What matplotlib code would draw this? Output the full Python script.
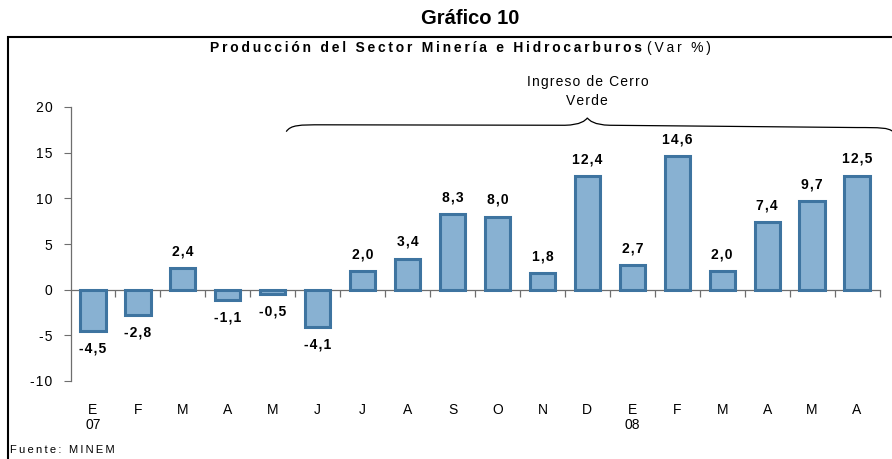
import matplotlib
matplotlib.use("Agg")
import matplotlib.pyplot as plt
from matplotlib.patches import Rectangle, PathPatch
from matplotlib.path import Path
from matplotlib.transforms import blended_transform_factory

plt.rcParams['font.family'] = ['Liberation Sans', 'DejaVu Sans']
plt.rcParams['axes.unicode_minus'] = False

# data
months = ['E', 'F', 'M', 'A', 'M', 'J', 'J', 'A', 'S', 'O', 'N', 'D',
          'E', 'F', 'M', 'A', 'M', 'A']
years = {0: '07', 12: '08'}
values = [-4.5, -2.8, 2.4, -1.1, -0.5, -4.1, 2.0, 3.4, 8.3, 8.0, 1.8, 12.4,
          2.7, 14.6, 2.0, 7.4, 9.7, 12.5]
yticks = [-10, -5, 0, 5, 10, 15, 20]

fill_color = '#88b1d2'
edge_color = '#3e74a0'
axis_color = '#6e6e6e'

THIN = '\u2009'
HAIR = '\u200a'


def spaced(s, gap):
    # the original text is letter-spaced, fake it with narrow spaces
    return gap.join(s)


fig = plt.figure(figsize=(8.92, 4.59), dpi=100)
ax = fig.add_axes([70.5 / 892, 1 - 381 / 459, (879.5 - 70.5) / 892, 274 / 459])

x = list(range(len(values)))
ax.bar(x, values, width=0.56, color=fill_color, edgecolor=edge_color, linewidth=2.2, zorder=3)

ax.set_xlim(-0.5, len(values) - 0.5)
ax.set_ylim(-10, 20)
ax.set_yticks(yticks)
ax.set_yticklabels([spaced(str(t), HAIR) for t in yticks])
ax.tick_params(axis='y', direction='out', length=5, width=0.8, pad=8,
               labelsize=10, color=axis_color)

# x axis sits at zero, ticks at the category boundaries
ax.spines['bottom'].set_position(('data', 0))
ax.spines['top'].set_visible(False)
ax.spines['right'].set_visible(False)
for side in ['left', 'bottom']:
    ax.spines[side].set_linewidth(0.9)
    ax.spines[side].set_color(axis_color)
ax.set_xticks([i + 0.5 for i in x])
ax.set_xticklabels([])
ax.tick_params(axis='x', direction='out', length=5, width=0.9, color=axis_color)

# value labels
for xi, v in zip(x, values):
    lbl = spaced(f'{v:.1f}'.replace('.', ','), HAIR)
    if v >= 0:
        ax.annotate(lbl, (xi, v), xytext=(0, 7), textcoords='offset points',
                    ha='center', va='bottom', fontsize=10, fontweight='bold')
    else:
        ax.annotate(lbl, (xi, v), xytext=(0, -7.5), textcoords='offset points',
                    ha='center', va='top', fontsize=10, fontweight='bold')

# category labels below the plot
trans = blended_transform_factory(ax.transData, ax.transAxes)
for xi, m in zip(x, months):
    ax.text(xi, -0.105, m, transform=trans, ha='center', va='center', fontsize=10)
for xi, yr in years.items():
    ax.text(xi, -0.16, yr, transform=trans, ha='center', va='center', fontsize=10)

# brace over "Ingreso de Cerro Verde"
x0, xm, x1 = 4.3, 11.0, 17.8
yb, yf, yp = 17.3, 18.05, 18.8
verts = [(x0, yb),
         (x0 + 0.1, yf), (x0 + 0.3, yf), (x0 + 0.8, yf),
         (xm - 0.5, yf - 0.05),
         (xm - 0.15, yf), (xm - 0.05, yp - 0.3), (xm, yp),
         (xm + 0.05, yp - 0.3), (xm + 0.15, yf), (xm + 0.5, yf - 0.05),
         (x1 - 0.8, yf - 0.3),
         (x1 - 0.3, yf - 0.3), (x1 - 0.1, yf - 0.3), (x1, yb)]
codes = [Path.MOVETO,
         Path.CURVE4, Path.CURVE4, Path.CURVE4,
         Path.LINETO,
         Path.CURVE4, Path.CURVE4, Path.CURVE4,
         Path.CURVE4, Path.CURVE4, Path.CURVE4,
         Path.LINETO,
         Path.CURVE4, Path.CURVE4, Path.CURVE4]
ax.add_patch(PathPatch(Path(verts, codes), fill=False, lw=0.9, color='black', clip_on=False))
ax.text(xm, 21.7, spaced('Ingreso de Cerro', HAIR) + '\n' + spaced('Verde', HAIR),
        ha='center', va='center', fontsize=10, linespacing=1.45)

# frame, titles, source
fig.patches.append(Rectangle((8 / 892, -0.05), 1.0, 1 - 37 / 459 + 0.05,
                             transform=fig.transFigure, fill=False,
                             lw=1.5, edgecolor='black'))
fig.text(470 / 892, 1 - 18 / 459, 'Gráfico 10', ha='center', va='center',
         fontsize=14.5, fontweight='bold')
fig.text(642 / 892, 1 - 48 / 459,
         spaced('Producción del Sector Minería e Hidrocarburos', THIN),
         ha='right', va='center', fontsize=10, fontweight='bold')
fig.text(647 / 892, 1 - 48 / 459, spaced('(Var %)', THIN), ha='left', va='center', fontsize=10)
fig.text(10 / 892, 1 - 450 / 459, spaced('Fuente: MINEM', THIN), ha='left', va='center', fontsize=8)

fig.savefig('out.png', dpi=100)
